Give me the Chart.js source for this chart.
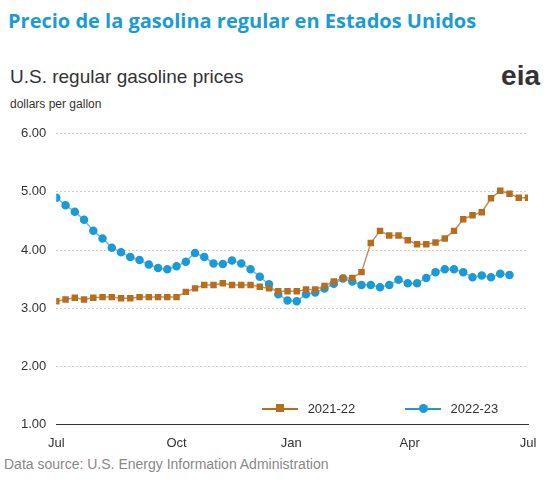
<!DOCTYPE html>
<html><head><meta charset="utf-8">
<script src="https://cdn.jsdelivr.net/npm/chart.js@4"></script>
<style>
body{margin:0;width:550px;height:483px;background:#fff;font-family:"Liberation Sans",Arial,sans-serif;position:relative;overflow:hidden}
#t1{position:absolute;left:8px;top:7px;font:bold 20px "Open Sans",sans-serif;color:#1a9bd7}
#t2{position:absolute;left:10px;top:66px;font-size:19px;color:#333}
#t3{position:absolute;left:10px;top:97px;font-size:12px;color:#333}
#logo{position:absolute;right:10px;top:60px;font:bold 28px "Liberation Sans";color:#333}
#src{position:absolute;left:4px;top:456px;font-size:14px;color:#888}
#wrap{position:absolute;left:0;top:116px;width:550px;height:338px}
#leg{position:absolute;left:262px;top:400px;font-size:13px;color:#333}
#leg span{display:inline-block;vertical-align:middle}
</style></head><body>
<div id="t1">Precio de la gasolina regular en Estados Unidos</div>
<div id="t2">U.S. regular gasoline prices</div>
<div id="t3">dollars per gallon</div>
<div id="logo">eia</div>
<div id="wrap"><canvas id="c"></canvas></div>
<div id="leg">
<span style="width:36px;height:2px;background:#b86d1c;position:relative"><span style="position:absolute;left:14px;top:-4px;width:8px;height:8px;background:#b86d1c"></span></span>
<span style="margin:0 46px 0 6px">2021-22</span>
<span style="width:36px;height:2px;background:#1a9bd7;position:relative"><span style="position:absolute;left:14px;top:-4px;width:9px;height:9px;border-radius:50%;background:#1a9bd7"></span></span>
<span style="margin-left:6px">2022-23</span>
</div>
<div id="src">Data source: U.S. Energy Information Administration</div>
<script>
const monthLabels = ['Jul','Oct','Jan','Apr','Jul'];
const monthWeeks = [0, 13, 25.4, 38.2, 51];
const prices2122 = [3.12,3.15,3.18,3.15,3.18,3.19,3.19,3.17,3.17,3.19,3.19,3.19,3.19,3.19,3.28,3.34,3.40,3.40,3.43,3.40,3.40,3.40,3.37,3.34,3.29,3.29,3.29,
  3.32,3.32,3.38,3.46,3.52,3.52,3.62,4.12,4.33,4.25,4.25,4.17,4.10,4.10,4.13,4.20,4.33,4.53,4.60,4.65,4.89,5.02,4.97,4.90,4.90];
const prices2223 = [4.90,4.77,4.66,4.52,4.33,4.20,4.04,3.96,3.88,3.83,3.75,3.69,3.67,3.72,3.80,3.95,3.88,3.77,3.76,3.82,3.77,3.67,3.54,3.41,3.24,3.13,3.12,3.24,
  3.27,3.34,3.42,3.51,3.46,3.40,3.40,3.36,3.40,3.49,3.43,3.43,3.52,3.62,3.67,3.67,3.62,3.53,3.56,3.53,3.59,3.57];
const yTicks = [1,2,3,4,5,6];

const pts = a => a.map((v,i)=>({x:i,y:v}));
new Chart(document.getElementById('c'), {
  type:'line',
  data:{datasets:[
    {label:'2021-22',data:pts(prices2122),borderColor:'#c89060',backgroundColor:'#b86d1c',borderWidth:1.5,pointStyle:'rect',pointRadius:3.5,pointBorderColor:'#b86d1c'},
    {label:'2022-23',data:pts(prices2223),borderColor:'#6cc0e8',backgroundColor:'#1a9bd7',borderWidth:1.5,pointStyle:'circle',pointRadius:3.5,pointBorderColor:'#1a9bd7'}
  ]},
  options:{
    responsive:true,maintainAspectRatio:false,animation:false,
    layout:{padding:{left:11,right:22,top:10,bottom:0}},
    plugins:{legend:{display:false},tooltip:{enabled:false}},
    scales:{
      x:{type:'linear',min:0,max:51,
        afterBuildTicks:ax=>{ax.ticks=monthWeeks.map(v=>({value:v}));},
        ticks:{callback:(v,i)=>monthLabels[i],color:'#333',font:{size:13},maxRotation:0,autoSkip:false},
        grid:{display:false},border:{color:'#333'}},
      y:{min:1,max:6,
        afterBuildTicks:ax=>{ax.ticks=yTicks.map(v=>({value:v}));},
        ticks:{callback:v=>v.toFixed(2),color:'#333',font:{size:13},padding:10},
        grid:{color:'#ccc',drawTicks:false},border:{display:false,dash:[2,2]}}
    }
  }
});
</script>
</body></html>
